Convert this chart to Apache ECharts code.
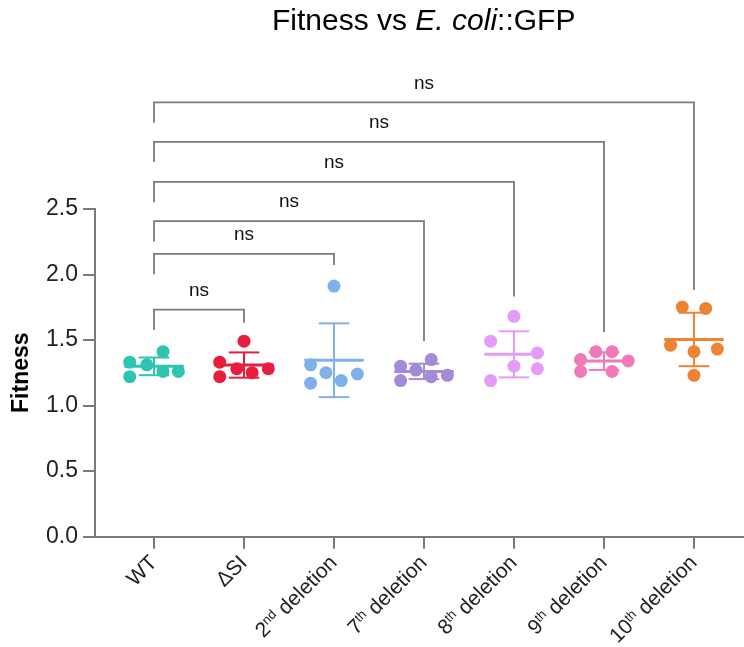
<!DOCTYPE html>
<html>
<head>
<meta charset="utf-8">
<script src="https://cdn.jsdelivr.net/npm/echarts@6/dist/echarts.min.js"></script>
<style>
  html, body { margin: 0; padding: 0; background: #fff; }
  #chart { width: 744px; height: 647px; }
</style>
</head>
<body>
<div id="chart"></div>
<script>
// groups on the x axis
const groups = ['WT', 'ΔSI', '2nd deletion', '7th deletion', '8th deletion', '9th deletion', '10th deletion'];
const colors = ['#2fc4b2', '#e81c3c', '#7eb0ea', '#a48ad9', '#e39cf7', '#f07ab9', '#ee8433'];

// fitness values
const wt = [1.41, 1.33, 1.22, 1.31, 1.26, 1.26];
const dSI = [1.49, 1.33, 1.22, 1.28, 1.25, 1.28];
const del2 = [1.91, 1.31, 1.17, 1.25, 1.19, 1.24];
const del7 = [1.30, 1.19, 1.27, 1.35, 1.22, 1.23];
const del8 = [1.68, 1.49, 1.40, 1.30, 1.28, 1.19];
const del9 = [1.35, 1.26, 1.41, 1.41, 1.26, 1.34];
const del10 = [1.75, 1.74, 1.46, 1.41, 1.43, 1.23];
const values = [wt, dSI, del2, del7, del8, del9, del10];

// horizontal scatter of the dots (category units)
const jitter = [
  [0.1, -0.27, -0.27, -0.08, 0.1, 0.27],
  [0, -0.27, -0.27, -0.08, 0.09, 0.27],
  [0, -0.26, -0.26, -0.09, 0.08, 0.26],
  [-0.26, -0.26, -0.09, 0.08, 0.08, 0.26],
  [0, -0.26, 0.26, 0, 0.26, -0.26],
  [-0.26, -0.26, -0.09, 0.09, 0.09, 0.27],
  [-0.13, 0.13, -0.26, 0, 0.26, 0]
];

// significance brackets WT vs group
const bracketTo = [1, 2, 3, 4, 5, 6];
const bracketLevel = [1.73, 2.155, 2.405, 2.705, 3.01, 3.31];
const bracketEnd = [1.63, 2.07, 1.49, 1.83, 1.56, 1.88];
const bracketText = ['ns', 'ns', 'ns', 'ns', 'ns', 'ns'];

const font = "'Liberation Sans', Arial, Helvetica, sans-serif";

function mean(a) { return a.reduce((s, v) => s + v, 0) / a.length; }
function sd(a) {
  const m = mean(a);
  return Math.sqrt(a.reduce((s, v) => s + (v - m) * (v - m), 0) / (a.length - 1));
}

const summary = values.map((a, i) => [i, mean(a), sd(a)]);
const brackets = bracketTo.map((k, i) => [k, bracketLevel[i], bracketEnd[i], i]);

const chart = echarts.init(document.getElementById('chart'));

const scatterSeries = values.map((arr, g) => ({
  name: groups[g],
  type: 'scatter',
  symbolSize: 13,
  itemStyle: { color: colors[g], opacity: 1 },
  z: 2,
  data: arr.map((v, j) => [g + jitter[g][j], v])
}));

const option = {
  animation: false,
  title: {
    text: '{a|Fitness vs }{i|E. coli}{a|::GFP}',
    left: 267,
    top: 2,
    textStyle: {
      rich: {
        a: { fontSize: 30, fontFamily: font, color: '#000', fontWeight: 'normal' },
        i: { fontSize: 30, fontFamily: font, color: '#000', fontWeight: 'normal', fontStyle: 'italic' }
      }
    }
  },
  grid: {
    left: 95,
    right: 0,
    top: 208.7,
    bottom: 110.3,
    containLabel: false,
    outerBoundsMode: 'none'
  },
  xAxis: {
    type: 'value',
    min: -0.656,
    max: 6.556,
    splitLine: { show: false },
    axisLine: { show: true, onZero: false, lineStyle: { color: '#7a7a7a', width: 2 } },
    axisTick: {
      show: true,
      length: 12,
      customValues: groups.map((_, i) => i),
      lineStyle: { color: '#7a7a7a', width: 2 }
    },
    axisLabel: {
      customValues: groups.map((_, i) => i),
      rotate: 45,
      margin: 23,
      color: '#222',
      fontFamily: font,
      fontSize: 21,
      formatter: function (v) {
        const s = groups[Math.round(v)];
        const m = s.match(/^(\d+)(st|nd|rd|th)( .*)$/);
        if (m) return m[1] + '{sup|' + m[2] + '}' + m[3];
        return s;
      },
      rich: {
        sup: { fontSize: 13, fontFamily: font, color: '#222', verticalAlign: 'top', padding: [0, 0, 9, 0] }
      }
    }
  },
  yAxis: {
    type: 'value',
    min: 0,
    max: 2.5,
    interval: 0.5,
    name: 'Fitness',
    nameLocation: 'middle',
    nameGap: 62,
    nameTextStyle: { fontFamily: font, fontSize: 23, fontWeight: 'bold', color: '#000' },
    splitLine: { show: false },
    axisLine: { show: true, onZero: false, lineStyle: { color: '#7a7a7a', width: 2 } },
    axisTick: { show: true, length: 12, lineStyle: { color: '#7a7a7a', width: 2 } },
    axisLabel: {
      margin: 17,
      color: '#222',
      fontFamily: font,
      fontSize: 23,
      formatter: v => v.toFixed(1)
    }
  },
  series: scatterSeries.concat([
    {
      name: 'mean ± SD',
      type: 'custom',
      z: 3,
      data: summary,
      renderItem: function (params, api) {
        const x = api.value(0), m = api.value(1), s = api.value(2);
        const c = api.coord([x, m]);
        const t = api.coord([x, m + s]);
        const b = api.coord([x, m - s]);
        const unit = api.size([1, 0])[0];
        const col = colors[params.dataIndex];
        const hw = unit * 0.33, cw = unit * 0.17;
        const st = { stroke: col, lineWidth: 2, fill: null };
        return {
          type: 'group',
          children: [
            { type: 'line', shape: { x1: c[0], y1: t[1], x2: c[0], y2: b[1] }, style: st },
            { type: 'line', shape: { x1: c[0] - cw, y1: t[1], x2: c[0] + cw, y2: t[1] }, style: st },
            { type: 'line', shape: { x1: c[0] - cw, y1: b[1], x2: c[0] + cw, y2: b[1] }, style: st },
            { type: 'line', shape: { x1: c[0] - hw, y1: c[1], x2: c[0] + hw, y2: c[1] }, style: { stroke: col, lineWidth: 3 } }
          ]
        };
      }
    },
    {
      name: 'brackets',
      type: 'custom',
      z: 1,
      clip: false,
      data: brackets,
      renderItem: function (params, api) {
        const k = api.value(0), lev = api.value(1), end = api.value(2);
        const p0 = api.coord([0, lev - 0.155]);
        const p1 = api.coord([0, lev]);
        const p2 = api.coord([k, lev]);
        const p3 = api.coord([k, end]);
        return {
          type: 'group',
          children: [
            {
              type: 'polyline',
              shape: { points: [p0, p1, p2, p3] },
              style: { stroke: '#7a7a7a', lineWidth: 1.8, fill: null }
            },
            {
              type: 'text',
              style: {
                text: bracketText[params.dataIndex],
                x: (p1[0] + p2[0]) / 2,
                y: p1[1] - 19,
                align: 'center',
                verticalAlign: 'middle',
                fontFamily: font,
                fontSize: 19,
                fill: '#111'
              }
            }
          ]
        };
      }
    }
  ])
};

chart.setOption(option);
</script>
</body>
</html>
